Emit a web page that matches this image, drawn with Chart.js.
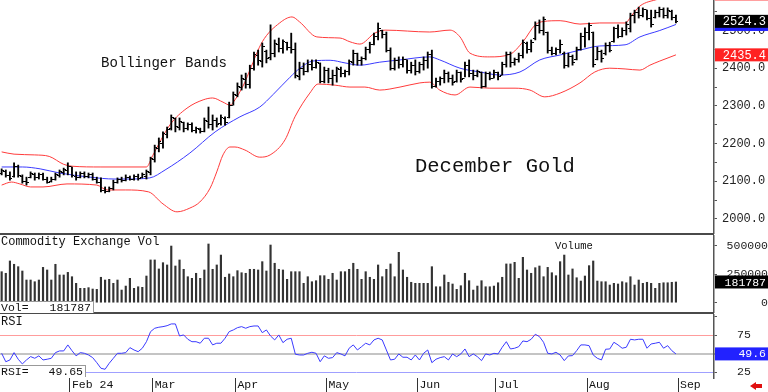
<!DOCTYPE html>
<html>
<head>
<meta charset="utf-8">
<script src="https://cdn.jsdelivr.net/npm/chart.js"></script>
<style>
  html, body { margin: 0; padding: 0; background: #fff; }
  #wrap { position: relative; width: 768px; height: 392px; overflow: hidden; font-family: "Liberation Mono", "DejaVu Sans Mono", monospace; color: #111; }
  canvas { position: absolute; left: 0; }
  .txt { position: absolute; white-space: pre; line-height: 1; }
  .sep { position: absolute; left: 0; width: 714px; height: 2px; background: #4a4a4a; }
  .box { position: absolute; left: 0; box-sizing: border-box; background: #fff; border-top: 1px solid #999; border-right: 1px solid #999;
         display: flex; justify-content: space-between; font-size: 11.5px; line-height: 11px; padding: 0 2px 0 1px; }
</style>
</head>
<body>
<div id="wrap">
  <canvas id="cPrice" width="768" height="234" style="top:0"></canvas>
  <canvas id="cVol" width="768" height="78" style="top:235px"></canvas>
  <canvas id="cRsi" width="768" height="78" style="top:314px"></canvas>

  <div class="sep" style="top:233px"></div>
  <div class="sep" style="top:312px"></div>

  <div class="txt" style="left:101px;top:56px;font-size:14px">Bollinger Bands</div>
  <div class="txt" style="left:415px;top:157px;font-size:20.5px">December Gold</div>
  <div class="txt" style="left:1px;top:236px;font-size:12px">Commodity Exchange Vol</div>
  <div class="txt" style="left:555px;top:241px;font-size:10.5px">Volume</div>
  <div class="txt" style="left:1px;top:316px;font-size:12px">RSI</div>

  <div class="box" id="volBox" style="top:301px;width:94px;height:12px"><span>Vol=</span><span id="volVal"></span></div>
  <div class="box" id="rsiBox" style="top:365px;width:86px;height:12px"><span>RSI=</span><span id="rsiVal"></span></div>

  <!-- 右下角的红色小箭头 -->
  <div style="position:absolute;left:750px;top:382px;width:0;height:0;border-top:4px solid transparent;border-bottom:4px solid transparent;border-right:6px solid #e01010"></div>
  <div style="position:absolute;left:755px;top:384px;width:7px;height:4px;background:#e01010"></div>
</div>

<script>
// 数据：每根K线（交易日序号 0..163）
const opens = [
  2121,2127,2116,2112,2139,2114,2100,2110,2119,2110,
  2118,2106,2100,2105,2116,2124,2128,2138,2114,2110,
  2120,2114,2118,2106,2098,2076,2073,2080,2098,2104,
  2102,2110,2106,2112,2110,2112,2124,2158,2188,2200,
  2224,2240,2266,2244,2256,2240,2250,2236,2238,2232,
  2258,2250,2260,2252,2266,2270,2302,2328,2350,2370,
  2356,2400,2434,2418,2444,2428,2440,2464,2452,2468,
  2456,2450,2378,2400,2392,2410,2402,2412,2366,2394,
  2372,2380,2396,2385,2390,2416,2438,2420,2425,2450,
  2462,2485,2500,2490,2448,2400,2420,2410,2422,2395,
  2408,2390,2410,2420,2436,2352,2366,2372,2385,2372,
  2366,2388,2372,2408,2385,2380,2388,2352,2385,2374,
  2388,2380,2410,2436,2414,2422,2435,2466,2450,2478,
  2512,2500,2494,2448,2440,2450,2440,2408,2430,2424,
  2450,2485,2495,2494,2424,2444,2438,2460,2470,2505,
  2485,2500,2505,2540,2548,2540,2555,2532,2535,2548,
  2556,2540,2550,2535
];
const highs = [
  2133,2130,2125,2149,2143,2117,2111,2125,2122,2122,
  2122,2111,2111,2122,2130,2135,2149,2138,2125,2125,
  2125,2122,2122,2111,2109,2085,2085,2103,2109,2111,
  2117,2114,2117,2119,2122,2130,2164,2196,2215,2231,
  2244,2276,2268,2268,2257,2255,2255,2244,2241,2268,
  2297,2276,2268,2276,2271,2310,2337,2361,2382,2387,
  2408,2443,2448,2467,2448,2515,2475,2480,2475,2469,
  2493,2467,2416,2414,2422,2422,2422,2414,2403,2400,
  2395,2403,2403,2395,2422,2448,2440,2430,2456,2469,
  2493,2520,2501,2496,2454,2427,2430,2430,2422,2416,
  2422,2416,2430,2443,2448,2374,2377,2395,2390,2382,
  2395,2390,2416,2422,2395,2395,2390,2390,2390,2395,
  2390,2416,2443,2443,2427,2440,2475,2469,2475,2523,
  2528,2536,2496,2456,2454,2475,2443,2440,2435,2456,
  2493,2507,2520,2496,2456,2448,2467,2469,2509,2515,
  2507,2523,2546,2554,2562,2560,2554,2554,2554,2562,
  2560,2560,2554,2541
];
const lows = [
  2117,2111,2103,2111,2111,2095,2090,2109,2103,2106,
  2103,2095,2098,2103,2111,2117,2117,2111,2103,2109,
  2109,2109,2103,2095,2072,2069,2072,2077,2095,2098,
  2101,2103,2103,2103,2109,2106,2117,2151,2178,2188,
  2215,2236,2231,2236,2231,2236,2231,2228,2228,2231,
  2241,2236,2244,2249,2249,2268,2302,2324,2342,2347,
  2347,2395,2408,2403,2414,2422,2430,2443,2440,2448,
  2440,2374,2369,2382,2390,2395,2400,2361,2361,2361,
  2355,2363,2377,2377,2382,2408,2408,2408,2422,2440,
  2462,2475,2480,2443,2395,2395,2400,2403,2387,2387,
  2382,2387,2395,2400,2347,2350,2355,2361,2363,2355,
  2363,2363,2377,2377,2369,2377,2347,2350,2369,2374,
  2369,2382,2403,2403,2408,2416,2427,2440,2443,2475,
  2493,2488,2440,2435,2435,2440,2400,2403,2408,2422,
  2448,2456,2475,2403,2422,2416,2435,2443,2469,2480,
  2483,2488,2496,2520,2533,2536,2528,2509,2533,2536,
  2533,2533,2528,2520
];
const closes = [
  2128,2116,2108,2140,2116,2100,2096,2120,2110,2118,
  2106,2098,2105,2118,2126,2130,2140,2115,2110,2120,
  2114,2118,2106,2098,2076,2072,2080,2098,2104,2102,
  2110,2106,2112,2108,2118,2126,2160,2190,2206,2226,
  2238,2268,2245,2258,2240,2250,2236,2240,2232,2260,
  2250,2262,2250,2268,2256,2300,2330,2352,2372,2356,
  2400,2436,2420,2458,2426,2440,2466,2452,2470,2456,
  2450,2380,2400,2390,2410,2402,2416,2366,2395,2372,
  2380,2398,2385,2390,2418,2440,2420,2425,2450,2462,
  2485,2505,2490,2448,2400,2420,2410,2424,2395,2408,
  2390,2410,2420,2436,2352,2366,2372,2385,2372,2362,
  2388,2370,2408,2385,2380,2390,2352,2385,2374,2388,
  2378,2410,2436,2414,2422,2435,2468,2450,2468,2512,
  2500,2530,2448,2440,2450,2462,2408,2430,2415,2450,
  2485,2495,2512,2410,2445,2425,2460,2448,2505,2485,
  2500,2515,2540,2548,2540,2555,2532,2515,2548,2556,
  2540,2552,2535,2524.3
];

// 布林带（从图上读的点：[序号, 价格]）
const bandUpper = [
  [0,2178],[3,2172],[8,2170],[11.5,2166],[15,2145],[17,2140],[24,2138],[35,2138],[36.5,2168],
  [40.7,2250],[44.8,2294],[48.7,2316],[51,2321],[53.5,2310],[55.2,2302],[56.4,2316],[58.8,2363],
  [60,2395],[63,2470],[67.2,2520],[70.2,2536],[72,2523],[76.2,2483],[81.8,2480],[84.2,2470],
  [86.6,2464],[90.2,2493],[92.7,2501],[103.5,2496],[108.4,2501],[110.8,2483],[113.2,2440],
  [118,2430],[122.9,2437],[126,2470],[129,2515],[131,2524],[135,2526],[139.8,2517],[144.6,2520],
  [150.7,2520],[152.4,2541],[154.3,2565],[158.6,2583],[163,2597]
];
const bandMiddle = [
  [0,2138],[5,2138],[9.3,2133],[14,2122],[21.3,2111],[27.4,2106],[30,2106],[35.8,2109],
  [39.5,2130],[45.5,2175],[51.6,2231],[57.6,2271],[62.4,2297],[65.6,2330],[69.7,2376],
  [72.1,2400],[75.2,2419],[79.4,2421],[83,2414],[86.6,2408],[91.4,2416],[96.3,2422],
  [103.5,2430],[105.9,2422],[110.8,2400],[115.6,2390],[120.4,2382],[125.3,2390],[130.1,2422],
  [135,2435],[139.8,2448],[144.6,2459],[150.7,2462],[154.3,2483],[159.1,2500],[163,2516]
];
const bandLower = [
  [0,2090],[2.4,2098],[4.4,2093],[7,2085],[10,2085],[15.8,2093],[23,2090],[25.5,2077],[30,2077],
  [35.5,2072],[39,2040],[42.4,2019],[45.5,2029],[47.9,2045],[50.4,2082],[52,2125],[53.5,2170],
  [55.2,2191],[56.4,2191],[58.8,2183],[62.4,2164],[64.9,2170],[68.5,2210],[70.9,2271],[74.5,2334],
  [76.5,2358],[80.6,2355],[84.2,2350],[87.8,2350],[91.4,2342],[96.3,2350],[101.1,2361],[103.5,2363],
  [105.9,2342],[109.6,2329],[113.2,2350],[118,2347],[124.1,2347],[127.7,2342],[131.3,2324],
  [135,2334],[139.8,2361],[143.4,2390],[147,2400],[150.7,2398],[154.3,2395],[156.7,2408],
  [159.1,2419],[163,2435.4]
];

// 成交量
const volumes = [
  272000,258000,366000,337000,316000,278000,199000,199000,184000,199000,
  310000,287000,199000,337000,243000,243000,266000,228000,170000,126000,
  126000,132000,120000,117000,223000,199000,205000,170000,199000,111000,
  146000,214000,126000,140000,135000,234000,375000,375000,296000,351000,
  331000,497000,322000,375000,293000,228000,214000,258000,214000,287000,
  515000,293000,331000,418000,223000,252000,228000,281000,263000,258000,
  293000,293000,287000,360000,278000,506000,346000,293000,287000,205000,
  272000,272000,272000,170000,228000,184000,193000,237000,237000,205000,
  258000,199000,272000,272000,293000,346000,293000,205000,272000,223000,
  205000,331000,228000,293000,340000,228000,442000,287000,223000,179000,
  170000,170000,170000,170000,316000,140000,140000,243000,179000,164000,
  117000,149000,258000,193000,111000,146000,193000,140000,140000,146000,
  175000,223000,340000,340000,354000,214000,398000,287000,258000,307000,
  322000,228000,310000,263000,237000,360000,418000,243000,296000,219000,
  190000,234000,325000,366000,190000,184000,184000,155000,170000,164000,
  184000,175000,228000,155000,199000,170000,179000,170000,126000,170000,
  175000,175000,179000,181787
];

// RSI
const rsi = [
  50.5,39,41.4,51.4,42.4,36,41.4,46,43.7,47,
  41.4,42.4,43.7,51.4,53.7,53.7,61.9,54,47,51.4,
  50.5,48.2,44.6,37.7,30.1,28.7,36.9,43.7,50.5,50.5,
  51.4,58.2,55,52.7,57.4,66.3,80,84.6,86,86.8,
  88.1,90.5,90.5,74.1,75.5,69.6,66.3,66.3,64.2,71,
  71,61.9,64.2,64.2,71,80,82.3,85.4,86.8,84.6,
  86.8,87.7,87.7,78.6,82.3,74.1,68.7,75.5,65,69.6,
  71,49.2,48.2,48.2,50.5,51.9,50.5,39,47,43.7,
  44.6,51.4,49.6,47,57.4,61.9,55,59.5,64.2,61.9,
  68.7,71,68.7,55,41.4,42.4,49.6,45.1,45.1,41.4,
  48.2,41.4,50.5,55,37.7,42.4,44.6,45.9,41.4,49.6,
  45.9,49.6,56.4,45.9,49.6,45.9,40.5,49.6,48.2,50.5,
  49.6,58.7,66.3,56.4,57.4,59.5,67.3,66.3,69.6,76.4,
  73.2,65.5,50.5,49.6,51.9,48.2,40.5,46.9,47.3,54.1,
  61.9,61.9,60.9,48.2,43.7,41.4,56,56.4,65.5,61.9,
  57.4,58.7,69.6,68.7,69.6,69.6,57.4,63.2,64.2,65.5,
  57.4,60.9,54.1,49.65
];

// 刻度
const priceTicks = [2000,2050,2100,2150,2200,2250,2300,2350,2400,2450,2500,2550];
const volTicks = [0,125000,250000,375000,500000];
const rsiTicks = [25,50,75,100];
const monthTicks = [16.5,36.5,56.5,78.5,100.5,119.5,141.5,163.5];
const monthLabels = ['Feb 24','Mar','Apr','May','Jun','Jul','Aug','Sep'];

const MONO = '"Liberation Mono", "DejaVu Sans Mono", monospace';
const X_MIN = -0.4, X_MAX = 172.2;

// 开盘/收盘的小横线，用图片当点样式
function makeTick(side) {
    const c = document.createElement('canvas');
    c.width = 5; c.height = 1;
    const g = c.getContext('2d');
    g.fillStyle = '#000';
    g.fillRect(side === 'left' ? 0 : 3, 0, 2, 1);
    return c;
}
const tickL = makeTick('left');
const tickR = makeTick('right');

// 右侧数值标签框
const valueBoxes = {
    id: 'valueBoxes',
    afterDraw(chart, args, opts) {
        const ctx = chart.ctx;
        const ys = chart.scales.y;
        ctx.save();
        ctx.font = opts.font;
        ctx.textAlign = 'right';
        ctx.textBaseline = 'middle';
        opts.items.forEach(it => {
            const py = ys.getPixelForValue(it.value);
            ctx.fillStyle = it.bg;
            ctx.fillRect(ys.left + 1, py - 6.5, ys.right - ys.left - 1, 13);
            if (it.text) {
                ctx.fillStyle = '#fff';
                ctx.fillText(it.text, ys.right - 2, py + 0.5);
            }
        });
        ctx.restore();
    }
};

// 去掉刻度标签带来的自动留白，让绘图区贴满画布
function noPad(s) {
    s.paddingTop = 0;
    s.paddingBottom = 0;
    s.paddingLeft = 0;
    s.paddingRight = 0;
}

function baseOptions() {
    return {
        responsive: false,
        animation: false,
        events: [],
        layout: { padding: 0, autoPadding: false },
        plugins: { legend: { display: false }, tooltip: { enabled: false } }
    };
}

function hiddenX() {
    return { type: 'linear', min: X_MIN, max: X_MAX, display: false, offset: false, bounds: 'data' };
}

function toPts(arr) {
    return arr.map(p => ({ x: p[0], y: p[1] }));
}

const last = closes.length - 1;

// 价格图
const optPrice = baseOptions();
optPrice.scales = {
    x: hiddenX(),
    y: {
        position: 'right', min: 1960.2, max: 2580.9, bounds: 'data',
        afterFit: s => { s.width = 54; noPad(s); },
        afterBuildTicks: s => { s.ticks = priceTicks.map(v => ({ value: v })); },
        border: { color: '#555', width: 1.5 },
        grid: { drawOnChartArea: false, tickLength: 3, color: '#555' },
        ticks: { padding: 5, color: '#222', font: { family: MONO, size: 12 },
                 callback: v => v % 100 === 0 ? v.toFixed(1) : '' }
    }
};
optPrice.plugins.valueBoxes = {
    font: '12px ' + MONO,
    items: [
        { value: bandUpper[bandUpper.length - 1][1], bg: '#ff2222', text: bandUpper[bandUpper.length - 1][1].toFixed(1) },
        { value: bandMiddle[bandMiddle.length - 1][1], bg: '#2222ff', text: '' },
        { value: closes[last], bg: '#000', text: closes[last].toFixed(1) },
        { value: bandLower[bandLower.length - 1][1], bg: '#ff2222', text: bandLower[bandLower.length - 1][1].toFixed(1) }
    ]
};

new Chart(document.getElementById('cPrice'), {
    type: 'bar',
    data: {
        datasets: [
            { type: 'line', data: toPts(bandUpper), borderColor: '#ff3b3b', borderWidth: 1, pointRadius: 0, cubicInterpolationMode: 'monotone', order: 3 },
            { type: 'line', data: toPts(bandLower), borderColor: '#ff3b3b', borderWidth: 1, pointRadius: 0, cubicInterpolationMode: 'monotone', order: 3 },
            { type: 'line', data: toPts(bandMiddle), borderColor: '#3b3bff', borderWidth: 1, pointRadius: 0, cubicInterpolationMode: 'monotone', order: 3 },
            { type: 'bar', data: highs.map((h, i) => ({ x: i, y: [lows[i], h] })), backgroundColor: '#000', borderWidth: 0, barThickness: 1.2, order: 2 },
            { type: 'line', showLine: false, data: opens.map((v, i) => ({ x: i, y: v })), pointStyle: tickL, pointRadius: 2, order: 1 },
            { type: 'line', showLine: false, data: closes.map((v, i) => ({ x: i, y: v })), pointStyle: tickR, pointRadius: 2, order: 1 }
        ]
    },
    options: optPrice,
    plugins: [valueBoxes]
});

// 成交量图
const optVol = baseOptions();
optVol.scales = {
    x: hiddenX(),
    y: {
        position: 'right', min: -90351, max: 593860, bounds: 'data',
        afterFit: s => { s.width = 54; noPad(s); },
        afterBuildTicks: s => { s.ticks = volTicks.map(v => ({ value: v })); },
        border: { color: '#555', width: 1.5 },
        grid: { drawOnChartArea: false, tickLength: 3, color: '#555' },
        ticks: { padding: 4, crossAlign: 'far', color: '#222', font: { family: MONO, size: 11.5 },
                 callback: v => v % 250000 === 0 ? String(v) : '' }
    }
};
optVol.plugins.valueBoxes = {
    font: '11.5px ' + MONO,
    items: [{ value: volumes[last], bg: '#000', text: String(volumes[last]) }]
};

new Chart(document.getElementById('cVol'), {
    type: 'bar',
    data: {
        datasets: [
            { data: volumes.map((v, i) => ({ x: i, y: v })), backgroundColor: '#333', borderWidth: 0, barThickness: 1.5 }
        ]
    },
    options: optVol,
    plugins: [valueBoxes]
});

// RSI图
function rsiGridColor(v) {
    if (v === 75) return '#ff9c9c';
    if (v === 50) return '#c4c4c4';
    if (v === 25) return '#a0a0ff';
    return 'rgba(0,0,0,0)';
}

const optRsi = baseOptions();
optRsi.scales = {
    x: {
        type: 'linear', min: X_MIN, max: X_MAX, offset: false, bounds: 'data', position: 'bottom',
        afterFit: s => { s.height = 14; noPad(s); },
        afterBuildTicks: s => { s.ticks = monthTicks.map(v => ({ value: v })); },
        border: { display: false },
        grid: { drawOnChartArea: false, tickLength: 14, color: '#333' },
        ticks: { autoSkip: false, maxRotation: 0, align: 'start', labelOffset: 2, padding: -14,
                 color: '#111', font: { family: MONO, size: 11.5 },
                 callback: (v, i) => monthLabels[i] }
    },
    y: {
        position: 'right', min: 16.83, max: 104.02, bounds: 'data',
        afterFit: s => { s.width = 54; noPad(s); },
        afterBuildTicks: s => { s.ticks = rsiTicks.map(v => ({ value: v })); },
        border: { color: '#555', width: 1.5 },
        grid: {
            drawOnChartArea: true, tickLength: 3, tickColor: '#555',
            color: c => rsiGridColor(c.tick ? c.tick.value : 0),
            lineWidth: c => (c.tick && c.tick.value === 50) ? 2 : 1
        },
        ticks: { padding: 20, color: '#222', font: { family: MONO, size: 11.5 },
                 callback: v => (v === 25 || v === 75) ? String(v) : '' }
    }
};
optRsi.plugins.valueBoxes = {
    font: '11.5px ' + MONO,
    items: [{ value: rsi[last], bg: '#2222ff', text: rsi[last].toFixed(1) }]
};

new Chart(document.getElementById('cRsi'), {
    type: 'line',
    data: {
        datasets: [
            { data: rsi.map((v, i) => ({ x: i, y: v })), borderColor: '#3a3aff', borderWidth: 1, pointRadius: 0, tension: 0 }
        ]
    },
    options: optRsi,
    plugins: [valueBoxes]
});

// 左下角的数值框
document.getElementById('volVal').textContent = String(volumes[last]);
document.getElementById('rsiVal').textContent = rsi[last].toFixed(2);
</script>
</body>
</html>
